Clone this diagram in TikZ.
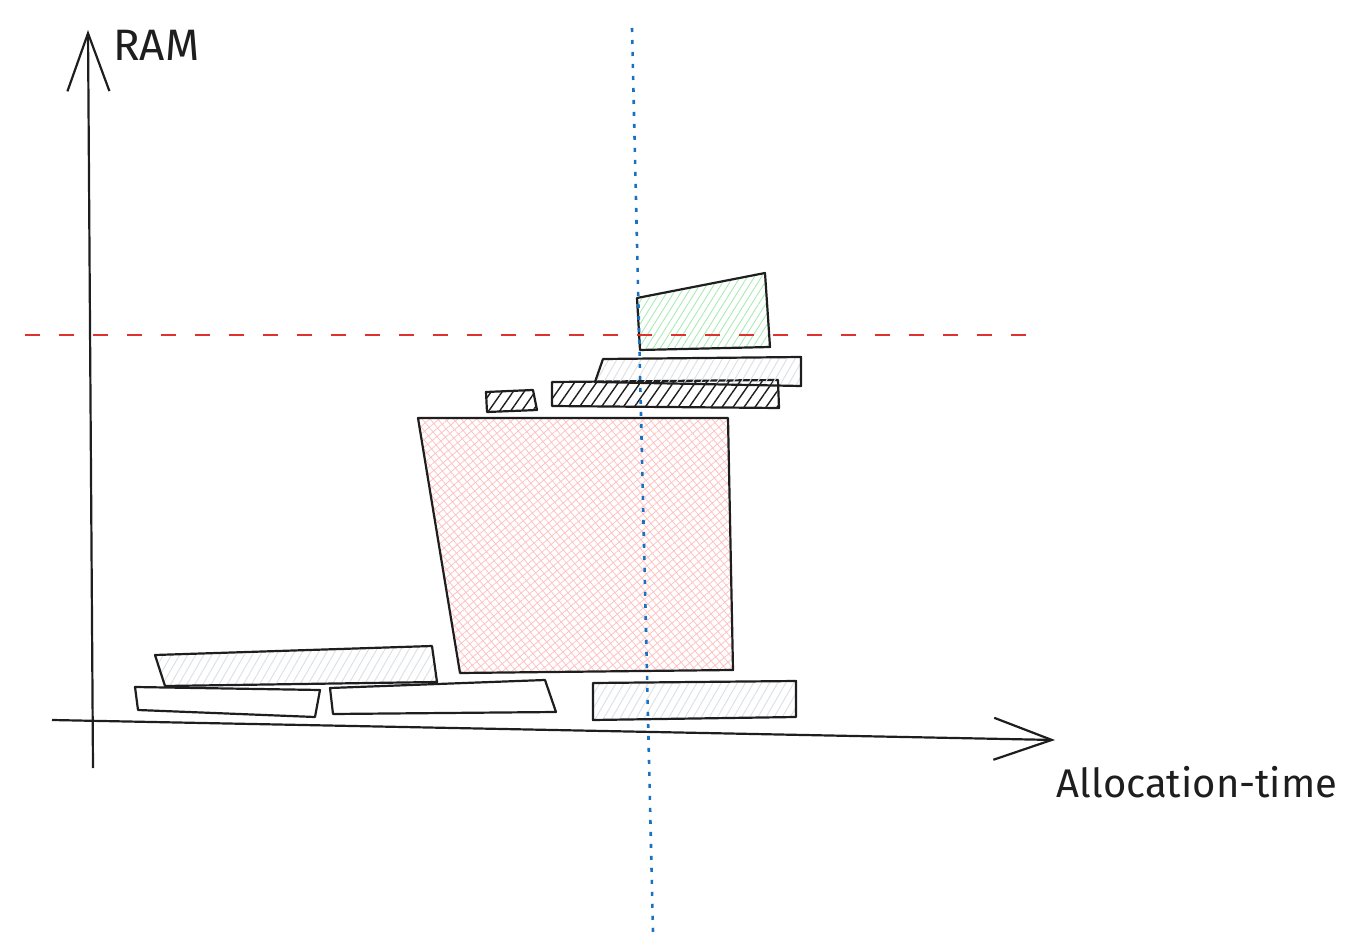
\documentclass[tikz,border=0pt]{standalone}
\usepackage{fontspec}
\setmainfont{Fira Sans}
\usetikzlibrary{arrows.meta,patterns.meta}
\definecolor{sketch}{HTML}{1E1E1E}
\definecolor{hatchgray}{HTML}{DDE1E6}
\definecolor{hatchred}{HTML}{FFC2C2}
\definecolor{hatchgreen}{HTML}{A8EBB2}
\definecolor{limitred}{HTML}{E03131}
\definecolor{nowblue}{HTML}{1971C2}
\tikzstyle{block}=[draw=sketch,line width=2.2pt,line join=round]
\tikzstyle{grayblock}=[block,pattern={Lines[angle=60,distance=7pt,line width=1pt]},pattern color=hatchgray]
\tikzstyle{darkblock}=[block,pattern={Lines[angle=55,distance=9pt,line width=1.4pt]},pattern color=sketch]
\tikzstyle{redblock}=[block,pattern={Hatch[angle=40,distance=6pt,line width=0.8pt]},pattern color=hatchred]
\tikzstyle{greenblock}=[block,pattern={Lines[angle=58,distance=6pt,line width=0.9pt]},pattern color=hatchgreen]
\tikzstyle{axis}=[draw=sketch,line width=2.2pt,-{Straight Barb[length=58pt,width=42pt,line width=2.2pt]}]
\tikzstyle{label}=[text=sketch,inner sep=0pt]

\begin{document}
\begin{tikzpicture}[x=1pt,y=-1pt]
\useasboundingbox (0,0) rectangle (1358,952);

% blocks, bottom row
\draw[grayblock] (155,655) -- (432,646) -- (437,682) -- (165,686) -- cycle;
\draw[block] (135,687) -- (320,690) -- (315,717) -- (138,710) -- cycle;
\draw[block] (330,688) -- (545,680) -- (556,712) -- (333,714) -- cycle;
\draw[grayblock] (593,683) -- (796,681) -- (796,717) -- (593,720) -- cycle;

% big block
\draw[redblock] (418,418) -- (728,418) -- (733,670) -- (460,673) -- cycle;

% stacked blocks
\draw[darkblock] (486,392) -- (533,390) -- (537,410) -- (487,412) -- cycle;
\draw[darkblock] (552,382) -- (778,380) -- (779,408) -- (552,406) -- cycle;
\draw[grayblock] (603,359) -- (801,357) -- (801,386) -- (595,382) -- cycle;
\draw[greenblock] (637,298) -- (765,273) -- (770,347) -- (640,350) -- cycle;

% axes
\coordinate (ybot) at (93,768);
\coordinate (ytop) at (88,30);
\coordinate (xleft) at (52,720);
\coordinate (xright) at (1055,740);
\draw[axis] (ybot) -- (ytop);
\draw[axis] (xleft) -- (xright);

\node[label,anchor=west,font=\fontsize{44}{50}\selectfont\mdseries] (ram) at (113,45) {RAM};
\node[label,font=\fontsize{40}{46}\selectfont] (time) at (1197,782) {Allocation-time};

% limits
\coordinate (limleft) at (25,335);
\coordinate (limright) at (1032,335);
\draw[limitred,line width=2.2pt,dash pattern=on 15pt off 19pt] (limleft) -- (limright);
\coordinate (nowtop) at (632,28);
\coordinate (nowbot) at (653,932);
\draw[nowblue,line width=2.6pt,dash pattern=on 4pt off 8pt] (nowtop) -- (nowbot);
\end{tikzpicture}
\end{document}
